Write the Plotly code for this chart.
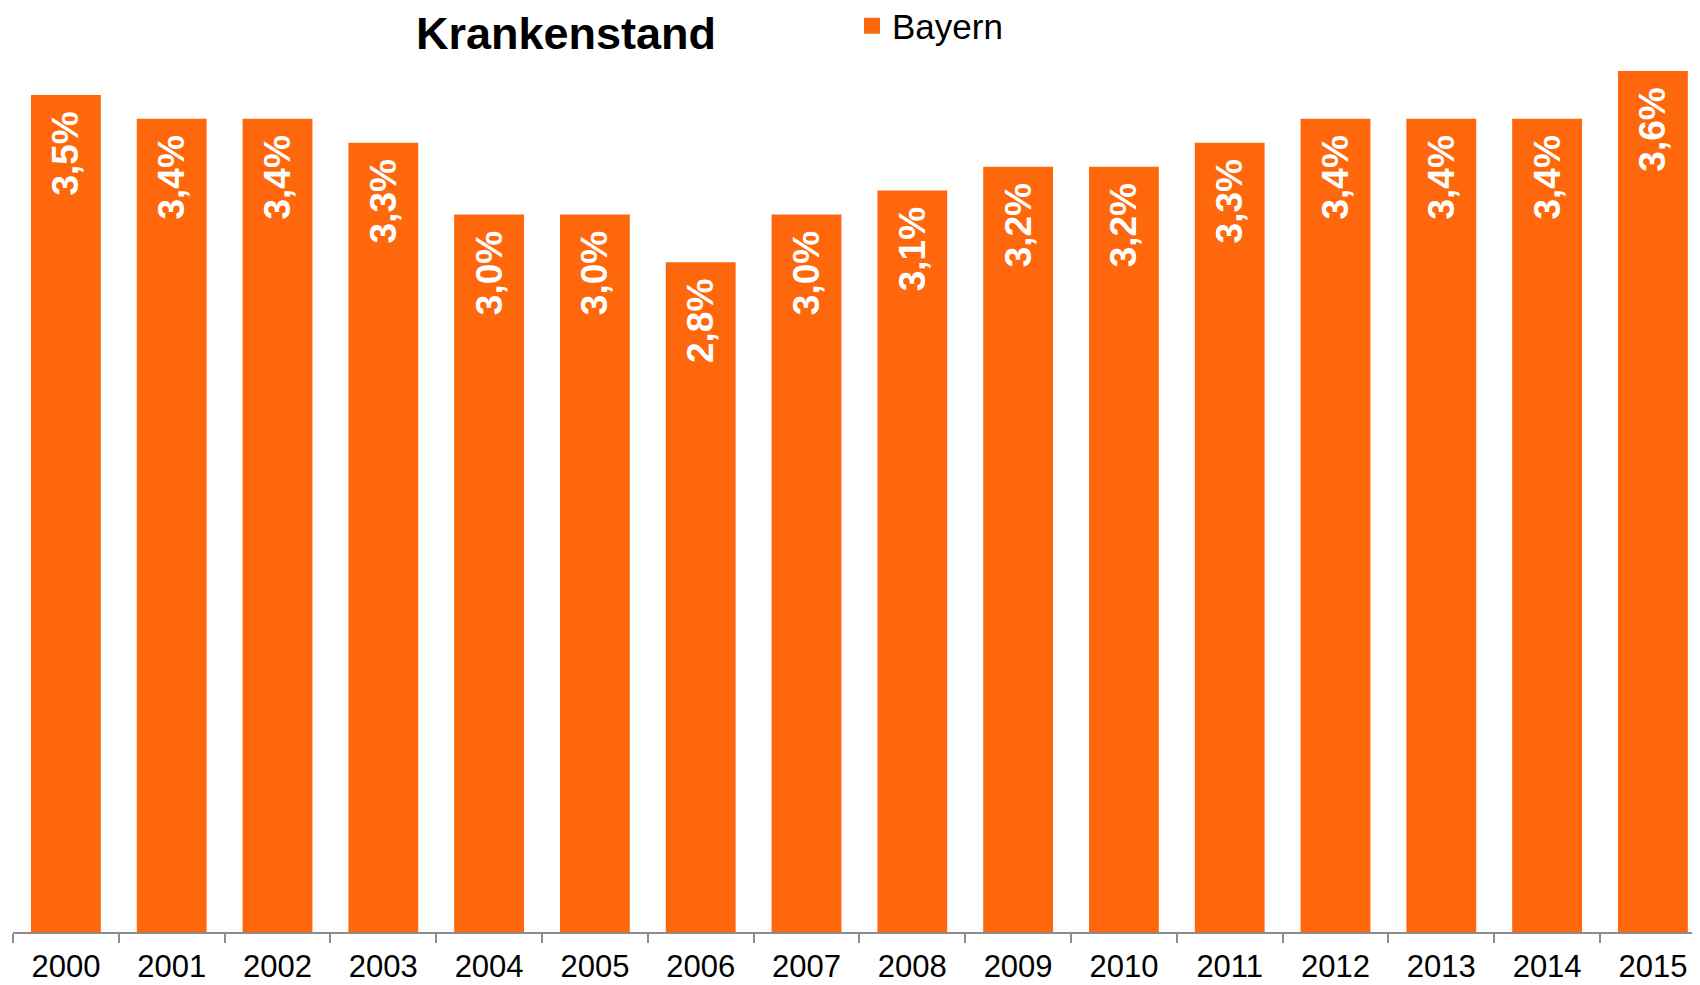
import plotly.graph_objects as go

years = ["2000", "2001", "2002", "2003", "2004", "2005", "2006", "2007",
         "2008", "2009", "2010", "2011", "2012", "2013", "2014", "2015"]
bayern = [3.5, 3.4, 3.4, 3.3, 3.0, 3.0, 2.8, 3.0, 3.1, 3.2, 3.2, 3.3, 3.4, 3.4, 3.4, 3.6]
series_name = "Bayern"
title_text = "Krankenstand"

labels = [f"{v:.1f}%".replace(".", ",") + "\u00a0\u200a" for v in bayern]

ORANGE = "#FE670C"

# page is rendered with an 8px body margin; figure sized so it fits the window
W, H = 1692, 977

fig = go.Figure()
fig.add_trace(go.Bar(
    x=years, y=bayern, name=series_name,
    marker=dict(color=ORANGE, line=dict(width=0)),
    text=labels, textposition="inside", insidetextanchor="end",
    textangle=-90,
    insidetextfont=dict(family="Liberation Sans, Arial", size=37, color="white", weight="bold"),
    showlegend=False, hoverinfo="skip",
))
# legend entry (larger square swatch)
fig.add_trace(go.Scatter(
    x=[None], y=[None], mode="markers", name=series_name,
    marker=dict(symbol="square", size=19, color=ORANGE),
    showlegend=True, hoverinfo="skip",
))

fig.update_layout(
    width=W, height=H,
    margin=dict(l=5, r=0, t=63, b=53, autoexpand=False),
    paper_bgcolor="white", plot_bgcolor="white",
    bargap=0.34,
    title=dict(text="<b>" + title_text + "</b>", xref="container", yref="container",
               x=558 / W, y=1 - 25 / H, xanchor="center", yanchor="middle",
               font=dict(family="Liberation Sans, Arial", size=45, color="black")),
    legend=dict(x=(852 - 13) / 1687, y=1 + (71 - 26) / 861,
                xanchor="left", yanchor="middle", bgcolor="rgba(0,0,0,0)",
                font=dict(family="Liberation Sans, Arial", size=35, color="black")),
    xaxis=dict(
        type="category", range=[-0.5, 15.445],
        showline=True, linecolor="#8c8c8c", linewidth=2,
        ticks="outside", tickson="boundaries", ticklen=9, tickwidth=2, tickcolor="#8c8c8c",
        ticklabelstandoff=6, tickangle=0,
        tickfont=dict(family="Liberation Sans, Arial", size=31, color="black"),
        showgrid=False, zeroline=False,
    ),
    yaxis=dict(range=[0, 3.6], visible=False, showgrid=False, zeroline=False),
)

fig.write_html("out.html")
